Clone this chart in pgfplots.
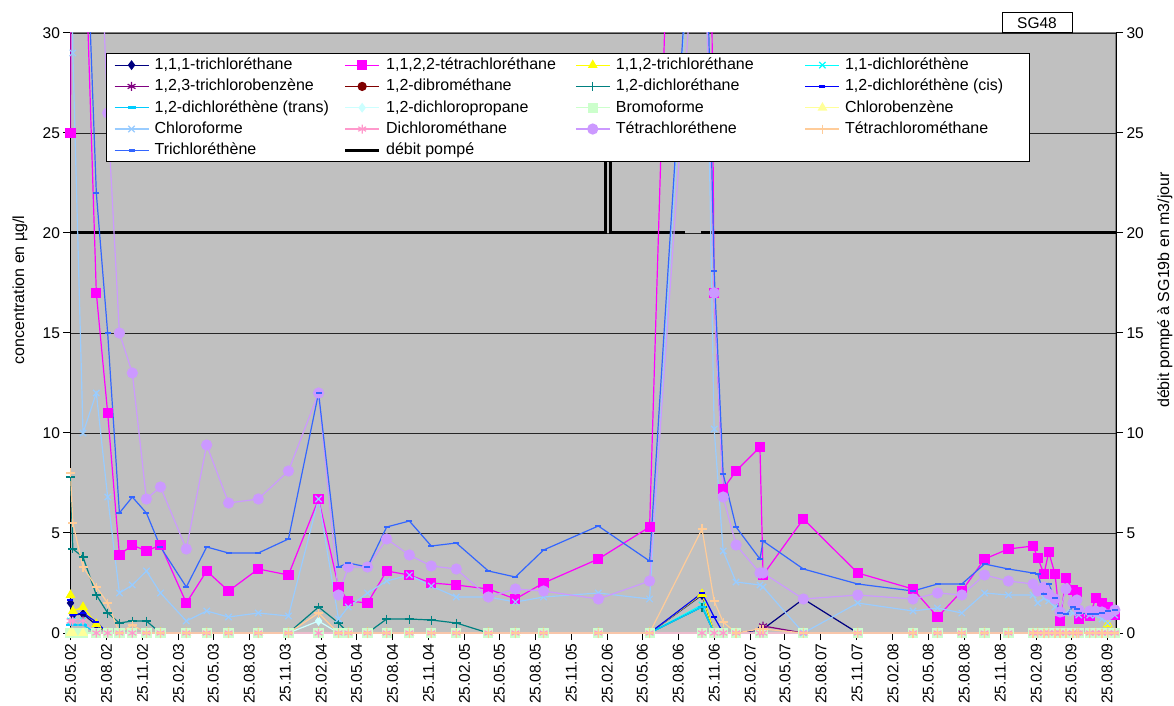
\documentclass[border=0pt]{standalone}
\usepackage{fontspec}
\setmainfont{Liberation Sans}
\usepackage{pgfplots}
\usepackage{pgfplotstable}
\pgfplotsset{compat=1.18}
\definecolor{bg}{HTML}{C0C0C0}
\definecolor{cA}{HTML}{000080}
\definecolor{cB}{HTML}{FF00FF}
\definecolor{cC}{HTML}{FFFF00}
\definecolor{cD}{HTML}{00FFFF}
\definecolor{cE}{HTML}{800080}
\definecolor{cF}{HTML}{800000}
\definecolor{cG}{HTML}{008080}
\definecolor{cH}{HTML}{0000FF}
\definecolor{cI}{HTML}{00CCFF}
\definecolor{cJ}{HTML}{CCFFFF}
\definecolor{cK}{HTML}{CCFFCC}
\definecolor{cL}{HTML}{FFFF99}
\definecolor{cM}{HTML}{99CCFF}
\definecolor{cN}{HTML}{FF99CC}
\definecolor{cO}{HTML}{CC99FF}
\definecolor{cP}{HTML}{FFCC99}
\definecolor{cQ}{HTML}{3366FF}
\newcommand{\tickfont}{\fontsize{15.5}{18}\selectfont}
\newcommand{\legfont}{\fontsize{16}{19}\selectfont}
\newcommand{\LC}[1]{\hspace*{5.5pt}\makebox[189pt][l]{#1}}
\newcommand{\LD}[1]{\hspace*{5pt}\makebox[177pt][l]{#1}}

\pgfplotstableread{
d A B C D E F G H I J K L M N O P Q
0 1.5 25 1.9 0.6 0 0 7.8 1.65 0.4 0 0 0 40 0.6 40 8 45
6 0.9 55 1.1 0.6 0 0 4.2 0.9 0.4 0 0 0 29 0.6 45 5.5 45
32 0.95 38 1.3 0.6 0 0 3.8 1.0 0.4 0 0 0 10 0.6 43 3.3 40
66 0.4 17 0.45 0 0 0 1.9 0.55 0 0 0 nan 12 0 40 2.3 22
95 0 11 0 0 0 0 1.0 0 0 0 0 nan 6.8 0 26 1.5 15
125 0 3.9 0 0 0 0 0.5 0 0 0 0 nan 2.0 0 15 0 6.0
158 0 4.4 0 0 0 0 0.6 0 0 0 0 nan 2.4 0 13 0.4 6.8
194 0 4.1 0 0 0 0 0.6 0 0 0 0 nan 3.1 0 6.7 0 6.0
230 0 4.4 0 0 0 0 0 0 0 0 0 nan 2.0 0 7.3 0 4.3
296 0 1.5 0 0 0 0 0 0 0 0 0 nan 0.6 0 4.2 0 2.3
348 0 3.1 0 0 0 0 0 0 0 0 0 nan 1.1 0 9.4 0 4.3
404 0 2.1 0 0 0 0 0 0 0 0 0 nan 0.8 0 6.5 0 4.0
480 0 3.2 0 0 0 0 0 0 0 0 0 nan 1.0 0 6.7 0 4.0
557 0 2.9 0 0 0 0 0 0 0 0 0 nan 0.85 0 8.1 0 4.7
634 0 6.7 0 0 0 0 1.3 0 0 0.6 0 nan 6.7 0 12 1.0 12
685 0 2.3 0 0 0 0 0.5 0 0 0 0 nan 0.7 0 1.9 0 3.3
710 0 1.6 0 0 0 0 0 0 0 0 0 nan 1.3 0 3.3 0 3.5
759 0 1.5 0 0 0 0 0 0 0 0 0 nan 2.0 0 3.3 0 3.3
808 0 3.1 0 0 0 0 0.7 0 0 0 0 nan 2.6 0 4.7 0 5.3
866 0 2.9 0 0 0 0 0.7 0 0 0 0 nan 2.9 0 3.9 0 5.6
922 0 2.5 0 0 0 0 0.65 0 0 0 0 nan 2.35 0 3.35 0 4.35
986 0 2.4 0 0 0 0 0.5 0 0 0 0 nan 1.8 0 3.2 0 4.5
1068 0 2.2 0 0 0 0 0 0 0 0 0 nan 1.8 0 1.8 0 3.1
1137 0 1.7 0 0 0 0 0 0 0 0 0 nan 1.55 0 2.2 0 2.8
1209 0 2.5 0 0 0 0 0 0 0 0 0 nan 1.8 0 2.1 0 4.15
1349 0 3.7 0 0 0 0 0 0 0 0 0 nan 2.0 0 1.7 0 5.35
1480 0 5.3 0 0 0 0 0 0 0 0 0 nan 1.7 0 2.6 0 3.6
1614 1.9 92 1.95 1.4 0 0 1.3 2.0 1.3 0 0 nan 45 0 40 5.2 45
1645 0 17 0 0 0 0 0 0.8 0 0 0 nan 10.2 0 17 1.6 18.1
1668 0 7.2 0 0 0 0 0 0 0 0 0 nan 4.1 0 6.8 0.55 7.95
1701 0 8.1 0 0 0 0 0 0 0 0 0 nan 2.55 0 4.4 0 5.3
1762 0.15 9.3 0 0 0 0 0 0 0 0 0 nan 2.4 0 3.0 0.2 3.7
1770 0.2 2.9 0 0 0.35 0 0 0 0 0 0 nan 2.3 0 3.0 0.2 4.6
1873 1.7 5.7 0 0 0 0 0 0 0 0 0 nan 0 0 1.7 0 3.2
2012 0 3.0 0 0 0 0 0 0 0 0 0 nan 1.5 0 1.9 0 2.45
2153 0 2.2 0 0 0 0 0 0 0 0 0 nan 1.1 0 1.7 0 2.1
2216 0 0.8 0 0 0 0 0 0 0 0 0 nan 1.25 0 2.0 0 2.45
2278 0 2.1 0 0 0 0 0 0 0 0 0 nan 1.0 0 1.9 0 2.45
2336 0 3.7 0 0 0 0 0 0 0 0 0 nan 2.0 0 2.9 0 3.45
2397 0 4.2 0 0 0 0 0 0 0 0 0 nan 1.9 0 2.6 0 3.2
2460 0 4.35 0 0 0 0 0 0 0 0 0 nan 1.9 0 2.45 0 3.0
2472 0 3.75 0 0 0 0 0 0 0 0 0 nan 1.5 0 2.1 0 2.95
2488 0 2.95 0 0 0 0 0 0 0 0 0 nan 1.75 0 2.3 0 1.95
2500 0 4.05 0 0 0 0 0 0 0 0 0 nan 1.6 0 1.95 0 2.45
2516 0 2.95 0 0 0 0 0 0 0 0 0 nan 1.3 0 1.7 0 1.75
2529 0 0.6 0 0 0 0 0 0 0 0 0 nan 1.05 0 1.05 0 1.0
2544 0 2.75 0 0 0 0 0 0 0 0 0 nan 1.0 0 2.2 0 0.95
2562 0 2.15 0 0 0 0 0 0 0 0 0 nan 1.0 0 1.5 0 1.3
2572 0 2.05 0 0 0 0 0 0 0 0 0 nan 1.1 0 1.65 0 1.2
2577 0 0.7 0 0 0 0 0 0 0 0 0 nan 0.9 0 1.15 0 1.0
2605 0 0.85 0 0 0 0 0 0 0 0 0 nan 0.9 0 1.1 0 0.95
2620 0 1.75 0 0 0 0 0 0 0 0 0 nan 0.9 0 1.1 0 0.95
2636 0 1.5 0 0 0 0 0 0 0 0 0 nan 0.7 0 1.05 0 1.0
2651 0 1.3 0.45 0 0 0 0 0 0 0 0 nan 0.5 0 0.9 0 1.1
2669 0 0.9 0 0 0 0 0 0 0 0 0 nan 0.9 0 1.15 0 1.15
}\datatab

\begin{document}
\begin{tikzpicture}
% right axis: background, grid, pumped flow
\begin{axis}[
  at={(0pt,0pt)}, anchor=south west,
  scale only axis, width=1045.5pt, height=600pt,
  xmin=0, xmax=2672, ymin=0, ymax=30,
  axis x line=none, axis y line*=right,
  ytick={0,5,...,30},
  tick align=outside, major tick length=7pt,
  tick style={black, line width=1pt},
  axis line style={black, line width=1pt},
  ymajorgrids, grid style={black!85, line width=0.8pt},
  axis background/.style={fill=bg, draw=gray, line width=1.3pt},
  yticklabel style={font=\tickfont},
  /pgf/number format/assume math mode=true,
  unbounded coords=jump,
]
\addplot[black, line width=3pt, no marks] coordinates {
(0,20) (1367,20) (1367,27) (1381,27) (1381,20) (1570,20) (1590,nan) (1611,20) (2672,20)};
\end{axis}
% left axis: concentrations
\begin{axis}[
  at={(0pt,0pt)}, anchor=south west,
  scale only axis, width=1045.5pt, height=600pt,
  xmin=0, xmax=2672, ymin=0, ymax=30,
  axis x line*=bottom, axis y line*=left,
  axis line style={black, line width=1pt},
  ytick={0,5,...,30},
  xtick={0,92,184,276,365,457,549,641,731,823,915,1007,1096,1188,1280,1372,1461,1553,1645,1737,1826,1918,2010,2102,2192,2284,2376,2468,2557,2649},
  xticklabels={25.05.02,25.08.02,25.11.02,25.02.03,25.05.03,25.08.03,25.11.03,25.02.04,25.05.04,25.08.04,25.11.04,25.02.05,25.05.05,25.08.05,25.11.05,25.02.06,25.05.06,25.08.06,25.11.06,25.02.07,25.05.07,25.08.07,25.11.07,25.02.08,25.05.08,25.08.08,25.11.08,25.02.09,25.05.09,25.08.09},
  tick align=outside, major tick length=7pt,
  tick style={black, line width=1pt},
  xticklabel style={rotate=90, anchor=east, font=\tickfont},
  yticklabel style={font=\tickfont},
  /pgf/number format/assume math mode=true,
  legend columns=4,
  legend cell align=left,
  legend image code/.code={\draw[mark repeat=2,mark phase=2,#1] plot coordinates {(0pt,0pt) (17pt,0pt) (34pt,0pt)};},
  legend style={at={(0.0344,0.9667)}, anchor=north west, draw=black, line width=1pt, fill=white,
    inner xsep=7pt, inner ysep=1pt, column sep=0pt, row sep=0pt,
    nodes={inner xsep=0pt, inner ysep=2.65pt, text height=12.3pt, text depth=3.7pt, font=\legfont}},
  every axis plot/.append style={line width=1.2pt, mark options={solid}},
]
\addplot[cA, mark=diamond*, mark size=4pt] table[x=d,y=A]{\datatab};
\addlegendentry{\LC{1,1,1-trichloréthane}}
\addplot[cB, mark=square*, mark size=4.5pt] table[x=d,y=B]{\datatab};
\addlegendentry{\LC{1,1,2,2-tétrachloréthane}}
\addplot[cC, mark=triangle*, mark size=4.5pt] table[x=d,y=C]{\datatab};
\addlegendentry{\LC{1,1,2-trichloréthane}}
\addplot[cD, mark=x, mark size=4.5pt] table[x=d,y=D]{\datatab};
\addlegendentry{\LD{1,1-dichloréthène}}
\addplot[cE, mark=asterisk, mark size=4.5pt] table[x=d,y=E]{\datatab};
\addlegendentry{\LC{1,2,3-trichlorobenzène}}
\addplot[cF, mark=*, mark size=4pt] table[x=d,y=F]{\datatab};
\addlegendentry{\LC{1,2-dibrométhane}}
\addplot[cG, mark=+, mark size=4.5pt] table[x=d,y=G]{\datatab};
\addlegendentry{\LC{1,2-dichloréthane}}
\addplot[cH, mark=-, mark size=3pt, mark options={line width=2.5pt}] table[x=d,y=H]{\datatab};
\addlegendentry{\LD{1,2-dichloréthène (cis)}}
\addplot[cI, mark=-, mark size=4pt, mark options={line width=2.5pt}] table[x=d,y=I]{\datatab};
\addlegendentry{\LC{1,2-dichloréthène (trans)}}
\addplot[cJ, mark=diamond*, mark size=4pt] table[x=d,y=J]{\datatab};
\addlegendentry{\LC{1,2-dichloropropane}}
\addplot[cK, mark=square*, mark size=4.5pt] table[x=d,y=K]{\datatab};
\addlegendentry{\LC{Bromoforme}}
\addplot[cL, mark=triangle*, mark size=4.5pt] table[x=d,y=L]{\datatab};
\addlegendentry{\LD{Chlorobenzène}}
\addplot[cM, mark=x, mark size=4.5pt] table[x=d,y=M]{\datatab};
\addlegendentry{\LC{Chloroforme}}
\addplot[cN, mark=asterisk, mark size=4.5pt] table[x=d,y=N]{\datatab};
\addlegendentry{\LC{Dichlorométhane}}
\addplot[cO, mark=*, mark size=5pt] table[x=d,y=O]{\datatab};
\addlegendentry{\LC{Tétrachloréthene}}
\addplot[cP, mark=+, mark size=4.5pt] table[x=d,y=P]{\datatab};
\addlegendentry{\LD{Tétrachlorométhane}}
\addplot[cQ, mark=-, mark size=3pt, mark options={line width=2.5pt}] table[x=d,y=Q]{\datatab};
\addlegendentry{\LC{Trichloréthène}}
\addlegendimage{black, line width=3pt, no marks}
\addlegendentry{\LC{débit pompé}}
\end{axis}
\node[rotate=90, font=\legfont] at (-50.5pt,343pt) {concentration en µg/l};
\node[rotate=90, font=\legfont] at (1094.5pt,343pt) {débit pompé à SG19b en m3/jour};
\node[draw=black, line width=1pt, fill=white, minimum width=70pt, minimum height=20pt, inner sep=0pt, font=\tickfont] at (966.5pt,610pt) {SG48};
\pgfresetboundingbox
\path[use as bounding box] (-70.5pt,-73pt) rectangle (1103.5pt,633pt);
\end{tikzpicture}
\end{document}
